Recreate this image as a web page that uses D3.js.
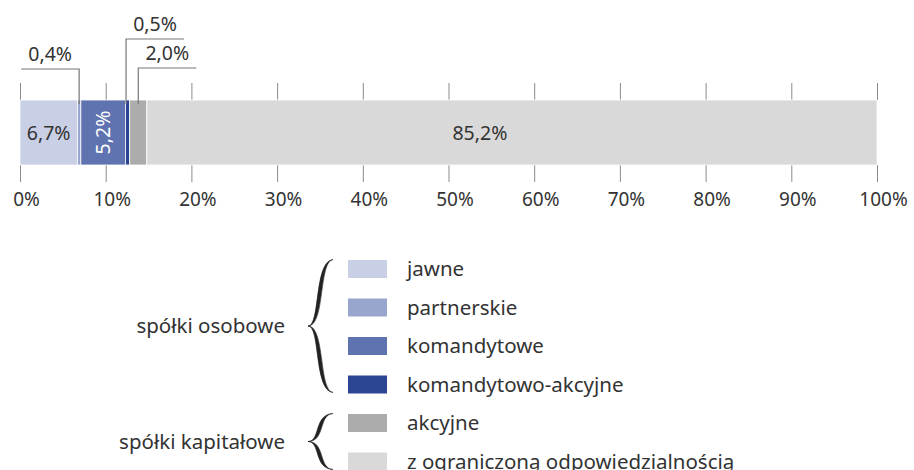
<!DOCTYPE html>
<html lang="pl">
<head>
<meta charset="UTF-8">
<script src="https://d3js.org/d3.v7.min.js"></script>
<style>
  body { margin: 0; background: #fff; }
  svg { display: block; font-family: "Noto Sans", "Open Sans", sans-serif; }
</style>
</head>
<body>
<svg width="914" height="470"></svg>
<script>
// data
const categories = ["jawne", "partnerskie", "komandytowe", "komandytowo-akcyjne", "akcyjne", "z ograniczoną odpowiedzialnością"];
const values = [6.7, 0.4, 5.2, 0.5, 2.0, 85.2];
const valueLabels = ["6,7%", "0,4%", "5,2%", "0,5%", "2,0%", "85,2%"];
const colors = ["#c9cfe5", "#98a5cd", "#5f73b0", "#2b4593", "#acacac", "#d9d9d9"];
const tickValues = [0, 10, 20, 30, 40, 50, 60, 70, 80, 90, 100];
const groups = [
  { name: "spółki osobowe", members: [0, 1, 2, 3] },
  { name: "spółki kapitałowe", members: [4, 5] }
];

const svg = d3.select("svg");
const textColor = "#333";
const lineColor = "#777";
const numSize = 19.5, legSize = 20.5;

const x = d3.scaleLinear().domain([0, 100]).range([20, 877]);
const barTop = 100, barH = 65;

// stacked segments
let acc = 0;
const segs = values.map((v, i) => {
  const s = { i, x0: acc, x1: acc + v, v };
  acc += v;
  return s;
});

// grid ticks above and below bar
const axisTop = d3.axisTop(x).tickValues(tickValues).tickSize(17).tickFormat("");
const axisBot = d3.axisBottom(x).tickValues(tickValues).tickSize(17)
  .tickFormat(d => d + "%");
const gTop = svg.append("g").attr("transform", `translate(0,${barTop})`).call(axisTop);
const gBot = svg.append("g").attr("transform", `translate(0,${barTop + barH})`).call(axisBot);
[gTop, gBot].forEach(g => {
  g.select(".domain").remove();
  g.selectAll(".tick line").attr("stroke", "#8a8a8a");
});
gBot.selectAll(".tick text")
  .attr("fill", textColor)
  .attr("font-size", 19)
  .attr("font-family", "Noto Sans, sans-serif")
  .attr("dx", 6)
  .attr("y", 28);

svg.append("g").selectAll("rect")
  .data(segs)
  .join("rect")
  .attr("x", d => x(d.x0))
  .attr("y", barTop)
  .attr("width", d => x(d.x1) - x(d.x0))
  .attr("height", barH)
  .attr("fill", d => colors[d.i])
  .attr("stroke", "#fff")
  .attr("stroke-width", 0.8);

// labels inside the bar
const mid = d => (d.x0 + d.x1) / 2;
svg.append("text")
  .attr("x", x(mid(segs[0]))).attr("y", barTop + barH / 2 + 7)
  .attr("text-anchor", "middle").attr("font-size", numSize).attr("fill", textColor)
  .text(valueLabels[0]);
svg.append("text")
  .attr("transform", `translate(${x(mid(segs[2])) + 7},${barTop + barH / 2}) rotate(-90)`)
  .attr("text-anchor", "middle").attr("font-size", numSize).attr("fill", "#fff")
  .text(valueLabels[2]);
svg.append("text")
  .attr("x", x(mid(segs[5])) - 32).attr("y", barTop + barH / 2 + 7)
  .attr("text-anchor", "middle").attr("font-size", numSize).attr("fill", textColor)
  .text(valueLabels[5]);

// callouts for thin segments
const callouts = [
  { i: 1, level: 69, dir: -1 },
  { i: 3, level: 39, dir: 1, shift: -1.5 },
  { i: 4, level: 68, dir: 1 }
];
callouts.forEach(c => {
  const xs = x(mid(segs[c.i])) + (c.shift || 0);
  const xe = xs + c.dir * 58;
  svg.append("path")
    .attr("d", `M${xe},${c.level}H${xs}V${barTop + 4}`)
    .attr("fill", "none").attr("stroke", lineColor).attr("stroke-width", 1.2);
  svg.append("text")
    .attr("x", (xs + xe) / 2).attr("y", c.level - 8)
    .attr("text-anchor", "middle").attr("font-size", numSize).attr("fill", textColor)
    .text(valueLabels[c.i]);
});

// legend
const legX = 348, legY0 = 269, rowH = 38.5;
const leg = svg.append("g");
categories.forEach((c, i) => {
  const cy = legY0 + i * rowH;
  leg.append("rect").attr("x", legX).attr("y", cy - 9).attr("width", 39).attr("height", 18)
    .attr("fill", colors[i]);
  leg.append("text").attr("x", legX + 59).attr("y", cy + 7)
    .attr("font-size", legSize).attr("fill", textColor).text(c);
});

// calligraphic curly braces (filled, tapering at the ends)
function halfBrace(x0, x1, yA, ym, w) {
  const xa1 = x0 + (x1 - x0) * 0.32, xa2 = x0 + (x1 - x0) * 0.6;
  const y1c = yA + (ym - yA) * 0.03;
  return `M${x1},${yA} C${xa1 - w},${y1c} ${xa2 - w},${ym} ${x0},${ym}
    C${xa2 + w},${ym} ${xa1 + w},${y1c} ${x1},${yA}Z`;
}
function brace(x0, x1, y0, y1) {
  const ym = (y0 + y1) / 2;
  return halfBrace(x0, x1, y0, ym, 2.4) + halfBrace(x0, x1, y1, ym, 2.4);
}
groups.forEach(g => {
  const first = g.members[0], last = g.members[g.members.length - 1];
  const y0 = legY0 + first * rowH - 9.5;
  const y1 = legY0 + last * rowH + 8;
  svg.append("path").attr("d", brace(308, 333, y0, y1))
    .attr("fill", "#222").attr("stroke", "#222").attr("stroke-width", 0.6);
  svg.append("text").attr("x", 285).attr("y", (y0 + y1) / 2 + 7)
    .attr("text-anchor", "end").attr("font-size", legSize).attr("fill", textColor)
    .text(g.name);
});
</script>
</body>
</html>
